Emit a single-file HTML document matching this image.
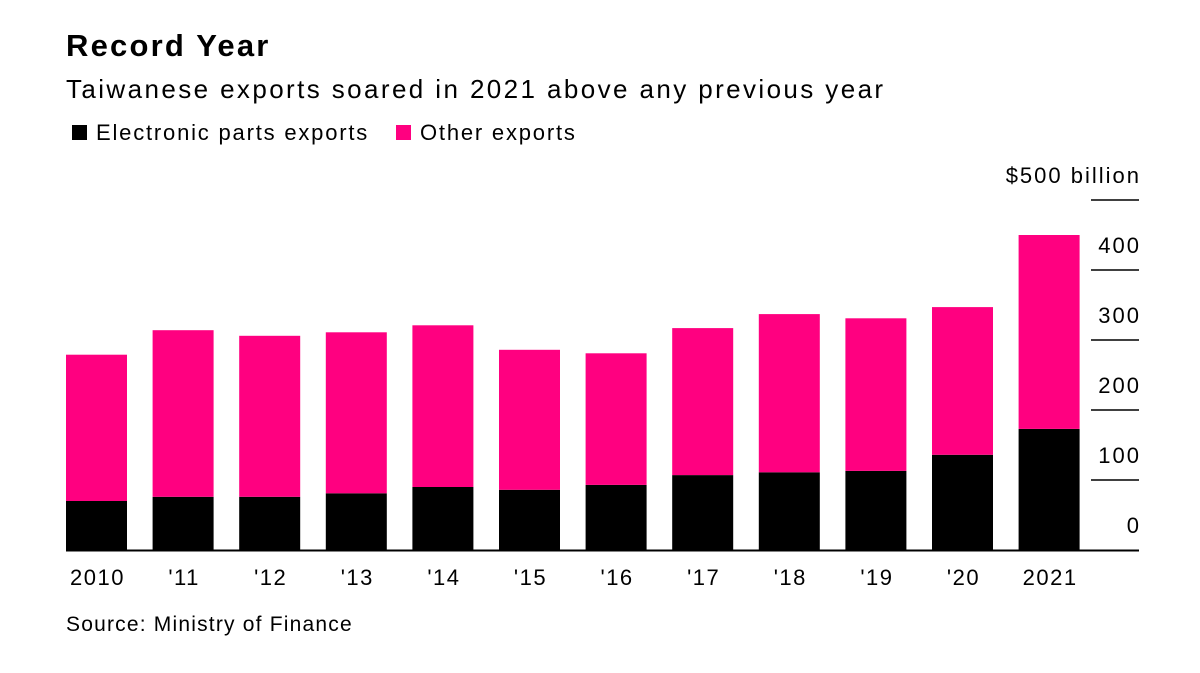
<!DOCTYPE html>
<html><head><meta charset="utf-8"><style>
body{margin:0;background:#fff;font-family:"Liberation Sans",sans-serif;}
svg text{font-family:"Liberation Sans",sans-serif;fill:#000;}
</style></head><body>
<svg width="1200" height="668">
<text x="66" y="56" font-size="31" font-weight="bold" letter-spacing="2.2">Record Year</text>
<text x="66" y="98" font-size="26" letter-spacing="2.4">Taiwanese exports soared in 2021 above any previous year</text>
<g>
<rect x="72" y="125" width="15" height="15" fill="#000"/>
<text x="96" y="140" font-size="22" letter-spacing="1.8">Electronic parts exports</text>
<rect x="396" y="125" width="15" height="15" fill="#ff0080"/>
<text x="420" y="140" font-size="22" letter-spacing="1.8">Other exports</text>
</g>
<g id="axis"></g>
<g id="bars"></g>
<text x="66" y="631" font-size="21" letter-spacing="1.2">Source: Ministry of Finance</text>
</svg>
<script>
const categories=["2010","'11","'12","'13","'14","'15","'16","'17","'18","'19","'20","2021"];
const electronic=[70,76,76,81,90,86,93,107,111,113,136,173];
const other=[209,238,230,230,231,200,188,210,226,218,211,277];
const ticks=[0,100,200,300,400,500];
const tickLabels=["0","100","200","300","400","$500 billion"];
const NS="http://www.w3.org/2000/svg";
const y0=550,pxPer=0.7,x0=66,step=86.6,bw=61;
const y=v=>y0-v*pxPer;
const x=i=>x0+i*step;
function mk(t,a,p){const e=document.createElementNS(NS,t);for(const k in a)e.setAttribute(k,a[k]);p.appendChild(e);return e;}
const ax=document.getElementById('axis'),bars=document.getElementById('bars');
ticks.forEach((t,i)=>{
 if(t>0){const l=mk('line',{x1:1091,x2:1139,y1:y(t),y2:y(t),stroke:'#000','stroke-width':1.5},ax);
 
 }
 const tx=mk('text',{x:1141,y:y(t)-17,'font-size':22,'text-anchor':'end','letter-spacing':2},ax);
 tx.textContent=tickLabels[i];
 
 
});
categories.forEach((c,i)=>{
 const e=electronic[i],o=other[i];
 const r1=mk('rect',{x:x(i),y:y(e),width:bw,height:e*pxPer,fill:'#000'},bars);
 
 
 const r2=mk('rect',{x:x(i),y:y(e+o),width:bw,height:o*pxPer,fill:'#ff0080'},bars);
 
 
 const t=mk('text',{x:x(i)+bw/2+1,y:585,'font-size':22,'text-anchor':'middle','letter-spacing':1.5},bars);
 t.textContent=c;
 
 
});
const b=mk('line',{x1:66,x2:1139,y1:y0+0.5,y2:y0+0.5,stroke:'#000','stroke-width':2},bars);


</script>
</body></html>
